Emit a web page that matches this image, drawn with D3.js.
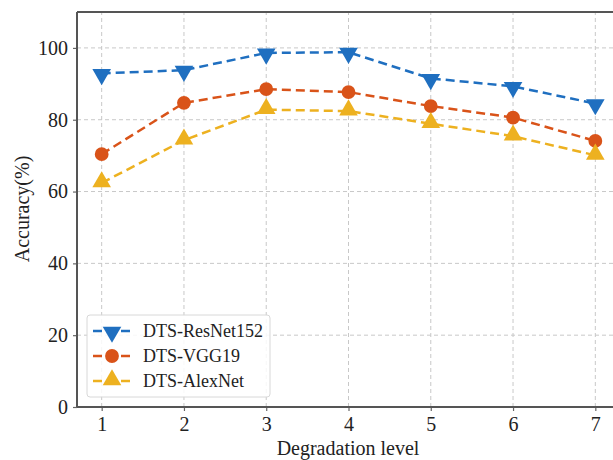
<!DOCTYPE html>
<html>
<head>
<meta charset="utf-8">
<script src="https://cdn.jsdelivr.net/npm/d3@7"></script>
<style>
  body { margin: 0; background: #fff; }
  text { font-family: "Liberation Serif", "Times New Roman", serif; }
</style>
</head>
<body>
<div id="chart"></div>
<script>
const levels = [1, 2, 3, 4, 5, 6, 7];
const resnetValues = [92.9, 93.8, 98.6, 98.8, 91.5, 89.3, 84.5];
const vggValues = [70.4, 84.7, 88.5, 87.7, 83.8, 80.6, 74.1];
const alexnetValues = [62.4, 74.3, 82.8, 82.4, 78.9, 75.4, 70.1];
const yTicks = [0, 20, 40, 60, 80, 100];
const seriesNames = ['DTS-ResNet152', 'DTS-VGG19', 'DTS-AlexNet'];

const width = 613,
      height = 460,
      margin = {top: 12, left: 77, bottom: 53, right: -7};

const series = [
  {name: seriesNames[0], values: resnetValues, color: '#1f6fc0', marker: 'down'},
  {name: seriesNames[1], values: vggValues, color: '#d95319', marker: 'circle'},
  {name: seriesNames[2], values: alexnetValues, color: '#edb120', marker: 'up'}
];

const svg = d3.select('#chart')
  .append('svg')
  .attr('width', width)
  .attr('height', height);

const x = d3.scaleLinear()
  .domain([0.7, 7.3])
  .range([margin.left, width - margin.right]);

const y = d3.scaleLinear()
  .domain([0, 110])
  .range([height - margin.bottom, margin.top]);

// grid
const grid = svg.append('g').attr('class', 'grid')
  .attr('stroke', '#c8c8c8')
  .attr('stroke-width', 1)
  .attr('stroke-dasharray', '4,3');

grid.selectAll('.gx')
  .data(levels)
  .enter()
  .append('line')
  .attr('x1', d => x(d)).attr('x2', d => x(d))
  .attr('y1', y(0)).attr('y2', y(110));

grid.selectAll('.gy')
  .data(yTicks)
  .enter()
  .append('line')
  .attr('x1', x(0.7)).attr('x2', width)
  .attr('y1', d => y(d)).attr('y2', d => y(d));

// axes
const xAxis = svg.append('g')
  .attr('transform', `translate(0,${y(0)})`)
  .call(d3.axisBottom(x).tickValues(levels).tickSize(4).tickPadding(6).tickFormat(d3.format('d')));

const yAxis = svg.append('g')
  .attr('transform', `translate(${x(0.7)},0)`)
  .call(d3.axisLeft(y).tickValues(yTicks).tickSize(4).tickPadding(5));

[xAxis, yAxis].forEach(ax => {
  ax.select('.domain').remove();
  ax.selectAll('.tick line').attr('stroke', '#666').attr('stroke-width', 1.2);
  ax.selectAll('.tick text')
    .attr('fill', '#222')
    .style('font-size', '20px')
    .style('font-family', '"Liberation Serif", serif');
});

// spines
svg.append('line')
  .attr('x1', x(0.7)).attr('x2', width)
  .attr('y1', y(0)).attr('y2', y(0))
  .attr('stroke', '#555').attr('stroke-width', 2);
svg.append('line')
  .attr('x1', x(0.7)).attr('x2', width)
  .attr('y1', y(110)).attr('y2', y(110))
  .attr('stroke', '#555').attr('stroke-width', 2);
svg.append('line')
  .attr('x1', x(0.7)).attr('x2', x(0.7))
  .attr('y1', y(0)).attr('y2', y(110))
  .attr('stroke', '#555').attr('stroke-width', 2);

// lines & markers
const line = d3.line()
  .x((d, i) => x(levels[i]))
  .y(d => y(d));

const triSym = d3.symbol().type(d3.symbolTriangle).size(150);
const circleSym = d3.symbol().type(d3.symbolCircle).size(150);

function drawMarker(g, kind, color, cx, cy) {
  if (kind === 'circle') {
    g.append('path')
      .attr('d', circleSym())
      .attr('transform', `translate(${cx},${cy})`)
      .attr('fill', color);
  } else {
    let rot = kind === 'down' ? 180 : 0;
    let dy = kind === 'down' ? 1 : -1;
    g.append('path')
      .attr('d', triSym())
      .attr('transform', `translate(${cx},${cy + dy}) rotate(${rot})`)
      .attr('fill', color);
  }
}

series.forEach(s => {
  let g = svg.append('g').attr('class', 'series');
  g.append('path')
    .datum(s.values)
    .attr('d', line)
    .attr('fill', 'none')
    .attr('stroke', s.color)
    .attr('stroke-width', 2.5)
    .attr('stroke-dasharray', '9,5');
  s.values.forEach((v, i) => drawMarker(g, s.marker, s.color, x(levels[i]), y(v)));
});

// legend
const legend = svg.append('g').attr('class', 'legend');
legend.append('rect')
  .attr('x', 87).attr('y', 315)
  .attr('width', 183).attr('height', 82)
  .attr('rx', 3)
  .attr('fill', 'rgba(255,255,255,0.85)')
  .attr('stroke', '#d8d8d8');

series.forEach((s, i) => {
  let ly = 331 + i * 25;
  legend.append('line')
    .attr('x1', 93).attr('x2', 131)
    .attr('y1', ly).attr('y2', ly)
    .attr('stroke', s.color)
    .attr('stroke-width', 2.5)
    .attr('stroke-dasharray', '9,5');
  drawMarker(legend, s.marker, s.color, 112, ly);
  legend.append('text')
    .attr('x', 143).attr('y', ly)
    .attr('dy', '0.35em')
    .attr('fill', '#222')
    .style('font-size', '18px')
    .text(s.name);
});

// axis labels
svg.append('text')
  .attr('x', 348).attr('y', 455)
  .attr('text-anchor', 'middle')
  .attr('fill', '#222')
  .style('font-size', '20px')
  .text('Degradation level');

svg.append('text')
  .attr('transform', `translate(29,209) rotate(-90)`)
  .attr('text-anchor', 'middle')
  .attr('fill', '#222')
  .style('font-size', '20px')
  .text('Accuracy(%)');
</script>
</body>
</html>
